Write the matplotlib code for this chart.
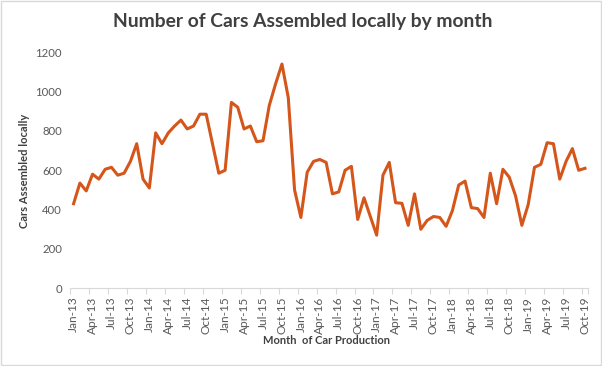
import matplotlib
matplotlib.use("Agg")
import matplotlib.pyplot as plt
from matplotlib.patches import Rectangle
import numpy as np

years = list(range(2013, 2020))
month_names = ["Jan", "Feb", "Mar", "Apr", "May", "Jun", "Jul", "Aug", "Sep", "Oct", "Nov", "Dec"]
months = [f"{m}-{y % 100:02d}" for y in years for m in month_names][:82]

cars = [
    430, 535, 495, 580, 555, 605, 615, 575, 585, 645, 735, 555,   # 2013
    510, 790, 735, 790, 825, 855, 810, 825, 885, 885, 735, 585,   # 2014
    600, 945, 920, 810, 825, 745, 750, 930, 1040, 1140, 970, 500, # 2015
    360, 590, 645, 655, 640, 480, 490, 600, 620, 350, 460, 365,   # 2016
    270, 575, 640, 435, 432, 320, 480, 300, 345, 365, 360, 315,   # 2017
    395, 525, 545, 410, 405, 360, 585, 430, 605, 565, 470, 320,   # 2018
    425, 615, 630, 740, 735, 555, 645, 710, 600, 610,             # 2019
]

title = "Number of Cars Assembled locally by month"
xlabel = "Month  of Car Production"
ylabel = "Cars Assembled locally"
yticks = [0, 200, 400, 600, 800, 1000, 1200]

plt.rcParams['font.family'] = ['Lato', 'DejaVu Sans']

fig = plt.figure(figsize=(6.02, 3.66), dpi=100)
fig.patches.append(Rectangle((0.001, 0.002), 0.997, 0.995, transform=fig.transFigure,
                             fill=False, edgecolor="#d9d9d9", linewidth=1.0))

ax = fig.add_axes([0.117, 0.2123, 0.860, 0.645])
x = np.arange(len(cars))
ax.plot(x, cars, color="#D5561B", linewidth=2.2, solid_joinstyle="round")

ax.set_xlim(-0.5, len(cars) - 0.5)
ax.set_ylim(0, 1200)
ax.set_yticks(yticks)
ax.set_yticklabels([str(v) for v in yticks])

label_idx = list(range(0, len(cars), 3))
ax.set_xticks(label_idx)
ax.set_xticklabels([months[i] for i in label_idx], rotation=90)
ax.set_xticks([i - 0.5 for i in label_idx] + [len(cars) - 0.5], minor=True)
ax.tick_params(axis="x", which="major", length=0, pad=6, labelsize=8.6, labelcolor="#595959")
ax.tick_params(axis="x", which="minor", length=4, color="#d9d9d9", width=0.8)
ax.tick_params(axis="y", length=0, pad=6, labelsize=8.2, labelcolor="#595959")

for s in ["top", "right", "left"]:
    ax.spines[s].set_visible(False)
ax.spines["bottom"].set_color("#d9d9d9")
ax.spines["bottom"].set_linewidth(0.8)

fig.text(0.503, 1 - 22 / 366, title, ha="center", va="center", fontsize=13.9,
         fontweight="bold", color="#404040")
fig.text(327 / 602, 1 - 341 / 366, xlabel, ha="center", va="center", fontsize=8,
         fontweight="bold", color="#404040")
fig.text(24.5 / 602, 1 - 171 / 366, ylabel, ha="center", va="center", fontsize=8,
         fontweight="bold", color="#404040", rotation=90)

fig.savefig("out.png", dpi=100)
